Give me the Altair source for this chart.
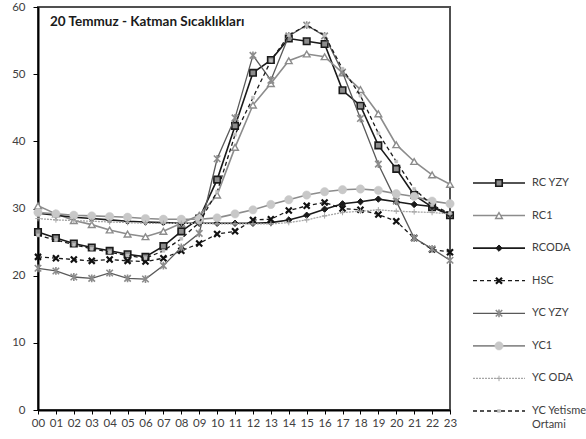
import altair as alt
import pandas as pd

HOURS = ["00", "01", "02", "03", "04", "05", "06", "07", "08", "09", "10", "11",
         "12", "13", "14", "15", "16", "17", "18", "19", "20", "21", "22", "23"]
SERIES = ["RC YZY", "RC1", "RCODA", "HSC", "YC YZY", "YC1", "YC ODA", "YC Yetisme Ortami"]
LEGEND_LABELS = ["RC YZY", "RC1", "RCODA", "HSC", "YC YZY", "YC1", "YC ODA", "YC Yetisme\nOrtami"]
Y_TICKS = [0, 10, 20, 30, 40, 50, 60]
TITLE = "20 Temmuz - Katman Sıcaklıkları"

RC_YZY = [26.5, 25.6, 24.8, 24.2, 23.7, 23.2, 22.8, 24.4, 26.6, 28.5, 34.3, 42.3,
          50.2, 52.1, 55.3, 54.9, 54.5, 47.6, 45.3, 39.4, 35.9, 32.0, 30.2, 29.0]
RC1 = [30.4, 29.2, 28.2, 27.6, 26.8, 26.2, 25.8, 26.6, 27.8, 29.0, 32.0, 39.1,
       45.4, 48.6, 52.0, 53.0, 52.6, 50.2, 47.7, 44.1, 39.5, 37.0, 35.0, 33.6]
RCODA = [29.3, 29.0, 28.7, 28.5, 28.3, 28.1, 28.0, 27.9, 27.8, 27.8, 27.8, 27.8,
         27.8, 27.9, 28.3, 29.0, 29.9, 30.7, 31.0, 31.4, 31.0, 30.6, 30.3, 29.1]
HSC = [22.8, 22.6, 22.4, 22.2, 22.4, 22.2, 22.1, 22.6, 23.7, 24.8, 26.2, 26.6,
       28.3, 28.4, 29.7, 30.4, 30.9, 30.0, 29.8, 29.1, 28.1, 25.6, 23.9, 23.5]
YC_YZY = [21.1, 20.7, 19.8, 19.6, 20.4, 19.6, 19.5, 21.5, 24.2, 26.3, 37.4, 43.5,
          52.8, 49.1, 55.7, 57.3, 55.7, 50.3, 43.4, 36.6, 31.1, 25.6, 24.0, 22.3]
YC1 = [29.4, 29.2, 29.0, 28.9, 28.8, 28.7, 28.5, 28.4, 28.4, 28.4, 28.6, 29.2,
       29.8, 30.6, 31.3, 32.0, 32.5, 32.8, 32.9, 32.7, 32.2, 31.8, 31.1, 30.7]
YC_ODA = [28.5, 28.3, 28.2, 28.1, 28.0, 27.9, 27.8, 27.8, 27.8, 27.8, 27.7, 27.7,
          27.7, 27.7, 27.9, 28.3, 28.9, 29.4, 29.6, 29.8, 29.6, 29.5, 29.4, 29.2]
YC_YETISME = [26.0, 25.3, 24.6, 24.0, 23.5, 23.0, 22.6, 23.7, 25.5, 27.9, 32.5, 41.0,
              46.5, 52.0, 55.8, 57.3, 55.8, 50.8, 46.8, 41.2, 37.0, 32.9, 30.5, 29.3]

VALUES = [RC_YZY, RC1, RCODA, HSC, YC_YZY, YC1, YC_ODA, YC_YETISME]

FONT = "Lato"
X_PATH = "M-1,-1L1,1M-1,1L1,-1"
STAR_PATH = "M-1,-1L1,1M-1,1L1,-1M0,-1.2L0,1.2"
PLUS_PATH = "M-1,0L1,0M0,-1L0,1"

STYLES = [
    (dict(color="#1a1a1a", strokeWidth=1.6),
     dict(shape="square", size=42, filled=True, fill="#8c8c8c", stroke="#1a1a1a", strokeWidth=1.6)),
    (dict(color="#8c8c8c", strokeWidth=1.6),
     dict(shape="triangle-up", size=45, filled=True, fill="#ffffff", stroke="#8c8c8c", strokeWidth=1.4)),
    (dict(color="#1a1a1a", strokeWidth=1.6),
     dict(shape="diamond", size=40, filled=True, fill="#1a1a1a", stroke="#1a1a1a", strokeWidth=1)),
    (dict(color="#1a1a1a", strokeWidth=1.3, strokeDash=[4, 3]),
     dict(shape=X_PATH, size=36, filled=False, stroke="#111111", strokeWidth=2.2)),
    (dict(color="#595959", strokeWidth=1.3),
     dict(shape=STAR_PATH, size=42, filled=False, stroke="#8c8c8c", strokeWidth=1.6)),
    (dict(color="#8c8c8c", strokeWidth=1.6),
     dict(shape="circle", size=70, filled=True, fill="#c8c8c8", stroke="#c8c8c8", strokeWidth=0.5)),
    (dict(color="#a6a6a6", strokeWidth=1.3, strokeDash=[2, 1]),
     dict(shape=PLUS_PATH, size=30, filled=False, stroke="#a6a6a6", strokeWidth=1)),
    (dict(color="#1a1a1a", strokeWidth=1.3, strokeDash=[4, 3]),
     dict(shape="square", size=9, filled=True, fill="#bfbfbf", stroke="#bfbfbf", strokeWidth=0.5)),
]

x_enc = alt.X("hour:O", scale=alt.Scale(type="point", padding=0, domain=HOURS),
              axis=alt.Axis(title=None, labelAngle=0, labelFont=FONT, labelFontSize=11.5,
                            labelColor="#404040", domainColor="#000000", domainWidth=2,
                            tickColor="#000000", tickSize=4, labelPadding=3, grid=False))
y_enc = alt.Y("value:Q", scale=alt.Scale(domain=[0, 60], nice=False),
              axis=alt.Axis(title=None, values=Y_TICKS, labelFont=FONT, labelFontSize=11.5,
                            labelColor="#404040", domainColor="#000000", domainWidth=2,
                            tickColor="#000000", tickSize=5, labelPadding=8, grid=False))

main_layers = []
for name, vals, (lstyle, pstyle) in zip(SERIES, VALUES, STYLES):
    df = pd.DataFrame({"hour": HOURS, "value": vals, "series": name})
    base = alt.Chart(df).encode(x=x_enc, y=y_enc)
    main_layers.append(base.mark_line(**lstyle))
    main_layers.append(base.mark_point(opacity=1, **pstyle))

title_layer = alt.Chart(pd.DataFrame({"t": [TITLE]})).mark_text(
    align="left", baseline="middle", font=FONT, fontSize=13.5, fontWeight="bold", color="#1a1a1a"
).encode(x=alt.value(12), y=alt.value(15), text="t:N")
main_layers.append(title_layer)

leg_scale = alt.Scale(type="point", domain=LEGEND_LABELS, range=[176, 404], padding=0)
legend_layers = []
for lab, (lstyle, pstyle) in zip(LEGEND_LABELS, STYLES):
    ldf = pd.DataFrame({"label": [lab]})
    lb = alt.Chart(ldf).encode(y=alt.Y("label:N", scale=leg_scale, axis=None))
    legend_layers.append(lb.mark_rule(**lstyle).encode(x=alt.value(435), x2=alt.value(487)))
    legend_layers.append(lb.mark_point(opacity=1, **pstyle).encode(x=alt.value(461)))
ldf_all = pd.DataFrame({"label": LEGEND_LABELS})
legend_layers.append(
    alt.Chart(ldf_all).mark_text(align="left", baseline="top", dy=-6, lineBreak="\n", lineHeight=14,
                                 font=FONT, fontSize=11, color="#404040")
    .encode(y=alt.Y("label:N", scale=leg_scale, axis=None), x=alt.value(494), text="label:N")
)

chart = alt.layer(alt.layer(*main_layers), alt.layer(*legend_layers)).resolve_scale(
    y="independent"
).properties(
    width=412, height=403,
    autosize=alt.AutoSizeParams(type="none"),
    padding={"left": 38, "top": 7, "right": 136, "bottom": 29},
).configure_view(stroke="#505050", strokeWidth=2)

chart.save("out.html", embed_options={"renderer": "svg", "actions": False})
